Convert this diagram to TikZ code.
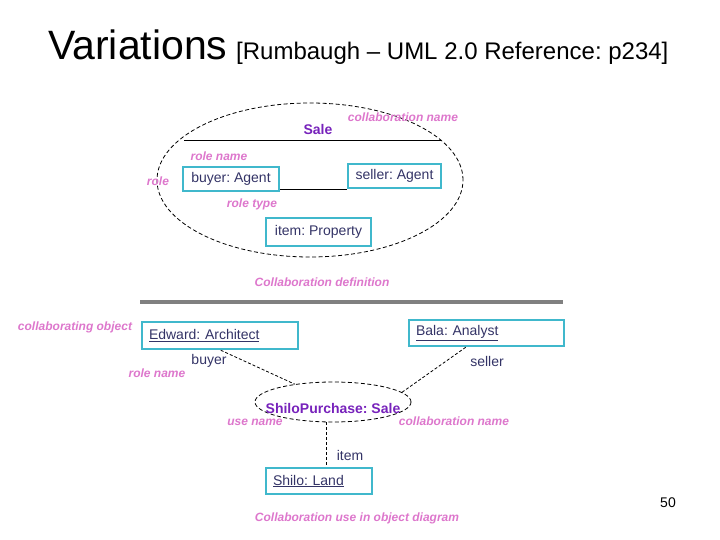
\documentclass[tikz,border=0pt]{standalone}
\usepackage{fontspec}
\setmainfont{Liberation Sans}
\usetikzlibrary{shapes.geometric,calc}
\definecolor{pinklab}{HTML}{DD77CC}
\definecolor{purp}{HTML}{7722BB}
\definecolor{navy}{HTML}{333366}
\definecolor{boxc}{HTML}{40B8CC}
\definecolor{grayline}{HTML}{808080}
\frenchspacing
\begin{document}
\begin{tikzpicture}[x=1pt,y=-1pt,
  lab/.style={text=pinklab,font=\fontsize{12}{14}\selectfont\bfseries\itshape,inner sep=0},
  body/.style={text=navy,font=\fontsize{14}{16}\selectfont,inner sep=0},
  boldp/.style={text=purp,font=\fontsize{14}{16}\selectfont\bfseries,inner sep=0},
  box/.style={draw=boxc,line width=2.5pt,inner sep=0,text=navy,font=\fontsize{14}{16}\selectfont},
  lbox/.style={box,align=left,inner xsep=7pt},
  dashline/.style={draw=black,line width=0.8pt,dash pattern=on 3pt off 2pt},
  ell/.style={ellipse,draw=black,line width=0.8pt,dash pattern=on 4pt off 2.5pt,inner sep=0}
]
\useasboundingbox (0,0) rectangle (720,540);
% title
\node[anchor=base west,inner sep=0,font=\fontsize{41}{45}\selectfont] (title) at (48,60) {Variations};
\node[anchor=base west,inner sep=0,font=\fontsize{24}{28}\selectfont] (ref) at (236,60) {[Rumbaugh -- UML 2.0 Reference: p234]};

% collaboration definition
\node[ell,minimum width=306,minimum height=154] (collab) at (310,180) {};
\node[boldp] (sale) at (318,129) {Sale};
\node[lab] (cname1) at (403,117) {collaboration name};
\coordinate (cl) at (184,140);
\coordinate (cr) at (441,140);
\draw[line width=0.8pt] (cl) -- (cr);
\node[lab] (rname1) at (219,156) {role name};
\node[box,minimum width=96,minimum height=24] (buyer) at (231,179) {buyer: Agent};
\node[box,minimum width=93,minimum height=24] (seller) at (394.5,176) {seller: Agent};
\draw[line width=0.8pt] (seller.south west) -- (seller.south west -| buyer.east);
\node[lab] (role) at (158,181) {role};
\node[lab] (rtype) at (252,204) {role type};
\node[box,minimum width=105,minimum height=28] (item) at (318.5,232) {item: Property};
\node[lab] (cdef) at (322,282) {Collaboration definition};

% separator
\coordinate (gl) at (140,302);
\coordinate (gr) at (563,302);
\draw[grayline,line width=4pt] (gl) -- (gr);

% collaboration use
\node[lab] (cobj) at (75,327) {collaborating object};
\node[lbox,text width=142,minimum height=27] (edward) at (220,335.5) {\underline{Edward: Architect}};
\node[lbox,text width=141,minimum height=26] (bala) at (486.5,333) {\underline{Bala: Analyst}};
\node[body] (buyerl) at (209,361) {buyer};
\node[body] (sellerl) at (487,361) {seller};
\node[lab] (rname2) at (157,373) {role name};
\node[ell,minimum width=156,minimum height=40] (use) at (333,402) {};
\node[boldp] (uselab) at (333,408) {ShiloPurchase: Sale};
\node[lab] (uname) at (255,422) {use name};
\node[lab] (cname2) at (454,421) {collaboration name};
\node[lbox,text width=92,minimum height=26] (shilo) at (319,481) {\underline{Shilo: Land}};
\node[body] (iteml) at (350,455) {item};
\coordinate (e1) at ($(edward.south west)+(80,0)$);
\coordinate (b1) at ($(bala.south west)+(58,0)$);
\coordinate (s1) at ($(shilo.north west)+(62,0)$);
\draw[dashline] (e1) -- (use.155);
\draw[dashline] (b1) -- (use.8);
\draw[dashline] (use.south -| s1) -- (s1);
\node[lab] (cuse) at (357,518) {Collaboration use in object diagram};
\node[inner sep=0,font=\fontsize{14}{16}\selectfont] (page) at (668,503) {50};
\end{tikzpicture}
\end{document}
